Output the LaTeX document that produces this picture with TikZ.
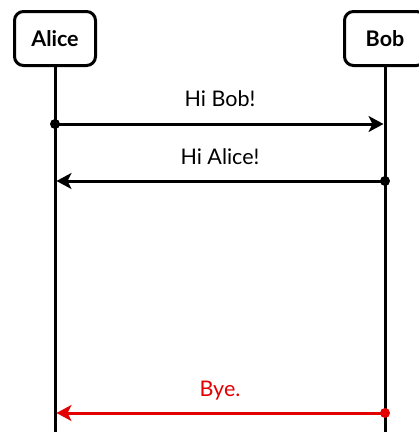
\documentclass[tikz,border=0pt]{standalone}
\usepackage{fontspec}
\setmainfont{Lato}
\usetikzlibrary{arrows.meta}
\definecolor{msgred}{RGB}{226,0,0}
\tikzset{
  actor/.style={draw=black, line width=3pt, rounded corners=9pt, minimum width=81pt, minimum height=54pt, inner sep=0pt, font=\fontsize{21.5}{25}\selectfont\bfseries, fill=white},
  life/.style={line width=3pt, black},
  msg/.style={line width=3pt, -{Stealth[length=15pt,width=16pt,inset=4pt]}, shorten >=1.5pt},
  msglabel/.style={anchor=base, inner sep=0pt, font=\fontsize{21.5}{25}\selectfont},
  dotc/.style={circle, fill, inner sep=0pt, minimum size=10pt}
}
\begin{document}
\begin{tikzpicture}[x=1pt,y=-1pt]
\useasboundingbox (0,0) rectangle (419,432);
\begin{scope}
\clip (0,0) rectangle (419,432);
% lifelines
\coordinate (aend) at (55,440);
\coordinate (bend) at (385,440);
\node[actor] (alice) at (55,38.5) {Alice};
\node[actor] (bob) at (385,38.5) {Bob};
\draw[life] (alice.south) -- (aend);
\draw[life] (bob.south) -- (bend);
% message 1
\coordinate (a1) at (55,124);
\coordinate (b1) at (385,124);
\draw[msg] (a1) -- (b1);
\node[dotc] (d1) at (a1) {};
\node[msglabel] (l1) at (220,106.7) {Hi Bob!};
% message 2
\coordinate (a2) at (55,181);
\coordinate (b2) at (385,181);
\draw[msg] (b2) -- (a2);
\node[dotc] (d2) at (b2) {};
\node[msglabel] (l2) at (220,164.3) {Hi Alice!};
% message 3
\coordinate (a3) at (55,413);
\coordinate (b3) at (385,413);
\draw[msg, msgred] (b3) -- (a3);
\node[dotc, fill=msgred] (d3) at (b3) {};
\node[msglabel, text=msgred] (l3) at (220,396) {Bye.};
\end{scope}
\end{tikzpicture}
\end{document}
